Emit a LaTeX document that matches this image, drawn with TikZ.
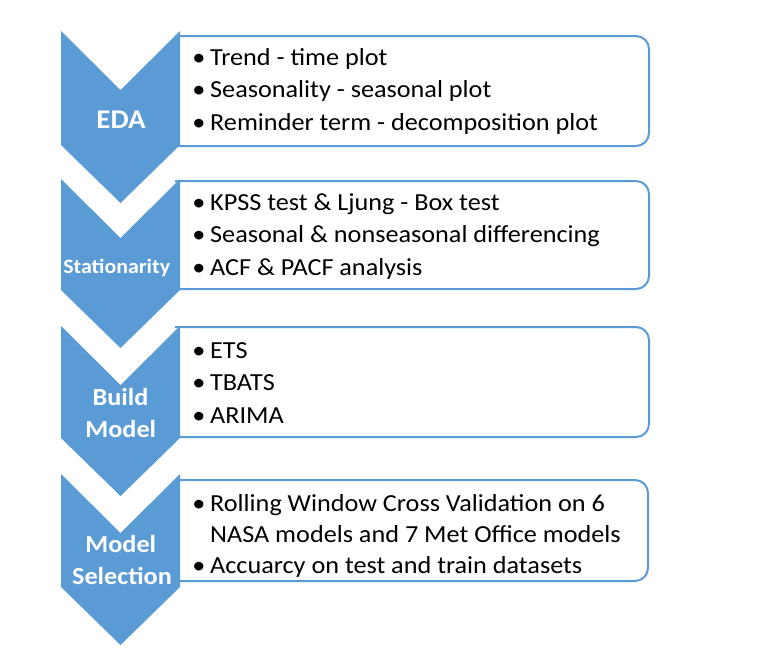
\documentclass[tikz,border=0pt]{standalone}
\usepackage{fontspec}
\setmainfont{Carlito}
\newfontfamily\itemfont[FakeStretch=1.07]{Carlito}
\definecolor{chev}{HTML}{5B9BD5}
\begin{document}
\begin{tikzpicture}[x=1pt,y=-1pt,
  chevfill/.style={fill=chev,draw=none},
  infobox/.style={draw=chev,line width=2pt,rounded corners=13pt},
  chevlabel/.style={text=white,font=\itemfont\bfseries\fontsize{#1}{#1}\selectfont,inner sep=0pt,anchor=base},
  chevlabel/.default=24.5,
  bul/.style={font=\itemfont\fontsize{24.5}{24.5}\selectfont,inner sep=0pt,anchor=base},
  itemtext/.style={font=\itemfont\fontsize{24.5}{24.5}\selectfont,inner sep=0pt,anchor=base west}]
\useasboundingbox (0,0) rectangle (758,662);
% boxes (left side hidden behind the chevrons)
\draw[infobox] (175,36) -- (649,36) -- (649,146) -- (175,146);
\draw[infobox] (175,181) -- (649,181) -- (649,289) -- (175,289);
\draw[infobox] (175,327) -- (649,327) -- (649,437) -- (175,437);
\draw[infobox] (175,480) -- (648,480) -- (648,581) -- (175,581);
% chevrons
\newcommand{\chevronat}[2]{%
  \fill[chevfill] (61,#1) -- (120.5,#1+59) -- (180,#1) -- (180,#2) -- (120.5,#2+58) -- (61,#2) -- cycle;}
\chevronat{31}{145}
\chevronat{179}{290}
\chevronat{326}{438}
\chevronat{474}{587}
% chevron labels
\node[chevlabel=27] (eda) at (121,128.3) {EDA};
\node[chevlabel=20.5] (stat) at (116.7,273) {Stationarity};
\node[chevlabel] (build1) at (120.5,405.7) {Build};
\node[chevlabel] (build2) at (120.8,437.3) {Model};
\node[chevlabel] (sel1) at (120.8,552.7) {Model};
\node[chevlabel] (sel2) at (122,584.3) {Selection};
% items
\newcommand{\itemline}[3]{%
  \node[bul] (b#1) at (199,#2) {•};
  \node[itemtext] (t#1) at (210,#2) {#3};}
\itemline{1}{65}{Trend - time plot}
\itemline{2}{97.5}{Seasonality - seasonal plot}
\itemline{3}{130}{Reminder term - decomposition plot}
\itemline{4}{210}{KPSS test \& Ljung - Box test}
\itemline{5}{242.5}{Seasonal \& nonseasonal differencing}
\itemline{6}{275}{ACF \& PACF analysis}
\itemline{7}{358}{ETS}
\itemline{8}{390.5}{TBATS}
\itemline{9}{423}{ARIMA}
\itemline{10}{511}{Rolling Window Cross Validation on 6}
\node[itemtext] (t10b) at (210,542) {NASA models and 7 Met Office models};
\itemline{11}{573}{Accuarcy on test and train datasets}
\end{tikzpicture}
\end{document}
